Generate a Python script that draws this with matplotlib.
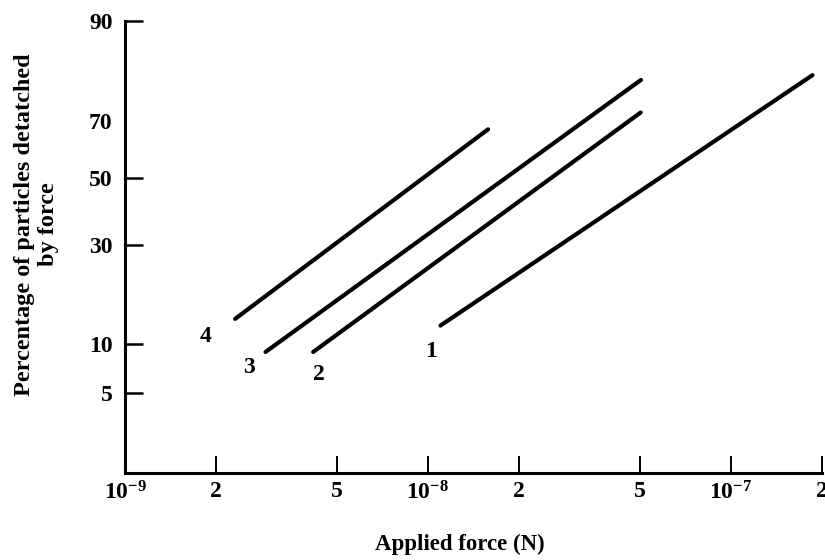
import math
from statistics import NormalDist

import numpy as np
import matplotlib
matplotlib.use("Agg")
import matplotlib.pyplot as plt
from matplotlib.ticker import FixedLocator, FixedFormatter, NullLocator

# ---- data -------------------------------------------------------------
# applied force (N) at the two ends of each curve, and the matching
# percentage of particles detached
force_1 = [1.10e-8, 1.86e-7]
pct_1 = [12.7, 80.8]
force_2 = [4.18e-9, 5.04e-8]
pct_2 = [9.0, 72.2]
force_3 = [2.91e-9, 5.05e-8]
pct_3 = [9.0, 79.8]
force_4 = [2.31e-9, 1.58e-8]
pct_4 = [13.8, 67.3]

curve_names = ["1", "2", "3", "4"]

x_ticks = [1e-9, 2e-9, 5e-9, 1e-8, 2e-8, 5e-8, 1e-7, 2e-7]
x_tick_labels = [r"$\mathregular{10^{-9}}$", "2", "5", r"$\mathregular{10^{-8}}$",
                 "2", "5", r"$\mathregular{10^{-7}}$", "2"]
y_ticks = [5, 10, 30, 50, 70, 90]
y_tick_labels = ["5", "10", "30", "50", "70", "90"]

# ---- probability axis ---------------------------------------------------
# hand-ruled probability paper: the graduations sit at these fractions of
# the axis height; in between, the scale runs linearly in normal quantiles
_nd = NormalDist()
grad_pct = [0.5, 5, 10, 30, 50, 70, 90, 99.5]
grad_pos = [-0.1005, 0.1769, 0.2852, 0.5041, 0.6522, 0.7782, 1.0, 1.375]
grad_z = [_nd.inv_cdf(p / 100.0) for p in grad_pct]

_inv_cdf = np.vectorize(lambda v: _nd.inv_cdf(v / 100.0), otypes=[float])
_cdf = np.vectorize(lambda v: 50.0 * (1.0 + math.erf(v / math.sqrt(2.0))),
                    otypes=[float])


def _forward(p):
    p = np.clip(np.asarray(p, dtype=float), 1e-6, 100 - 1e-6)
    return np.interp(_inv_cdf(p), grad_z, grad_pos)


def _inverse(u):
    z = np.interp(np.asarray(u, dtype=float), grad_pos, grad_z)
    return _cdf(z)


# ---- figure -------------------------------------------------------------
plt.rcParams["font.family"] = ["Liberation Serif", "DejaVu Serif"]
plt.rcParams["font.weight"] = "bold"
plt.rcParams["mathtext.default"] = "regular"

fig = plt.figure(figsize=(8.25, 5.6), dpi=100)
ax = fig.add_axes([125 / 825, 1 - 473 / 560, 697 / 825, 452.3 / 560])

ax.set_xscale("log")
ax.set_yscale("function", functions=(_forward, _inverse))
ax.set_xlim(1e-9, 2e-7)
ax.set_ylim(float(_inverse(0.0)), 90)

series = [(force_1, pct_1), (force_2, pct_2), (force_3, pct_3), (force_4, pct_4)]
label_offsets = {"1": (-9, -26), "2": (6, -23), "3": (-17, -16), "4": (-30, -18)}
for name, (fx, py) in zip(curve_names, series):
    ax.plot(fx, py, color="black", lw=3.0, solid_capstyle="round")
    ax.annotate(name, (fx[0], py[0]), xytext=label_offsets[name],
                textcoords="offset pixels", ha="center", va="center",
                fontsize=17, fontweight="bold")

for side in ("top", "right"):
    ax.spines[side].set_visible(False)
for side in ("left", "bottom"):
    ax.spines[side].set_linewidth(2.2)

ax.xaxis.set_major_locator(FixedLocator(x_ticks))
ax.xaxis.set_major_formatter(FixedFormatter(x_tick_labels))
ax.xaxis.set_minor_locator(NullLocator())
ax.yaxis.set_major_locator(FixedLocator(y_ticks))
ax.yaxis.set_major_formatter(FixedFormatter(y_tick_labels))
ax.yaxis.set_minor_locator(NullLocator())

ax.tick_params(axis="x", direction="in", length=12.5, width=1.4, pad=6,
               labelsize=17)
ax.tick_params(axis="y", direction="in", length=13, width=1.8, pad=9,
               labelsize=17)
# the 70 graduation is labelled but carries no tick mark
for tk, val in zip(ax.yaxis.get_major_ticks(), y_ticks):
    if val == 70:
        tk.tick1line.set_visible(False)

for lbl in ax.get_xticklabels() + ax.get_yticklabels():
    lbl.set_fontweight("bold")

ax.set_xlabel("Applied force (N)", fontsize=16.5, fontweight="bold")
ax.xaxis.set_label_coords(0.48, -0.135)
ax.set_ylabel("Percentage of particles detatched\nby force", fontsize=17.5,
              fontweight="bold", multialignment="center", linespacing=1.15)
ax.yaxis.set_label_coords(-0.095, 0.55)

fig.savefig("out.png", dpi=100)
